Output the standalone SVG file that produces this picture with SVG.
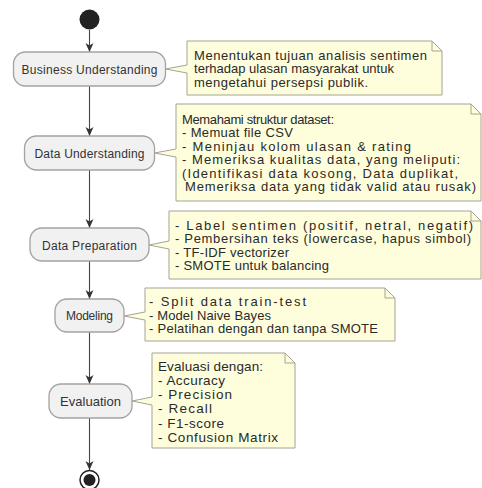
<svg xmlns="http://www.w3.org/2000/svg" width="482" height="488" viewBox="0 0 482 488">
<defs>
<style>
.act{fill:#f1f1f1;stroke:#a2a2a2;stroke-width:1.3}
.at{font-family:"Liberation Sans",Arial,sans-serif;font-size:12px;fill:#333;text-anchor:middle}
.note{fill:#fefedd;stroke:#a4a496;stroke-width:1}
.fold{fill:none;stroke:#a4a496;stroke-width:1}
.nt{font-family:"Liberation Sans",Arial,sans-serif;font-size:13px;fill:#2a2a2a}
.con{stroke:#444;stroke-width:1.1;fill:none}
</style>
<marker id="ah" markerWidth="10" markerHeight="10" refX="9" refY="4" orient="auto" markerUnits="userSpaceOnUse">
<path d="M0,0 L9,4 L0,8 L2.5,4 Z" fill="#333"/>
</marker>
</defs>
<rect width="482" height="488" fill="#fff"/>

<g id="connectors">
<line class="con" x1="89.5" y1="30" x2="89.5" y2="52" marker-end="url(#ah)"/>
<line class="con" x1="89.5" y1="86" x2="89.5" y2="136" marker-end="url(#ah)"/>
<line class="con" x1="89.5" y1="170" x2="89.5" y2="228" marker-end="url(#ah)"/>
<line class="con" x1="89.5" y1="261" x2="89.5" y2="299" marker-end="url(#ah)"/>
<line class="con" x1="89.5" y1="332" x2="89.5" y2="384" marker-end="url(#ah)"/>
<line class="con" x1="89.5" y1="418" x2="89.5" y2="470" marker-end="url(#ah)"/>
</g>

<g id="start">
<circle cx="89.5" cy="19.5" r="10" fill="#222"/>
</g>

<g id="business-understanding">
<rect class="act" x="13.5" y="52" width="152" height="34" rx="12"/>
<text class="at" x="89.5" y="73.5" textLength="136" lengthAdjust="spacing">Business Understanding</text>
</g>
<g id="note-business">
<path class="note" d="M187,41 L432,41 L442,51 L442,95 L187,95 L187,73 L165.5,69 L187,65 Z"/>
<path class="fold" d="M432,41 L432,51 L442,51"/>
<text class="nt" x="194" y="59.5" textLength="233" lengthAdjust="spacing">Menentukan tujuan analisis sentimen</text>
<text class="nt" x="194" y="73" textLength="200" lengthAdjust="spacing">terhadap ulasan masyarakat untuk</text>
<text class="nt" x="194" y="86.5" textLength="174" lengthAdjust="spacing">mengetahui persepsi publik.</text>
</g>

<g id="data-understanding">
<rect class="act" x="24.5" y="136" width="130" height="34" rx="12"/>
<text class="at" x="89.5" y="157.5" textLength="110" lengthAdjust="spacing">Data Understanding</text>
</g>
<g id="note-data-understanding">
<path class="note" d="M176,104 L471,104 L481,114 L481,201 L176,201 L176,157 L154.5,153 L176,149 Z"/>
<path class="fold" d="M471,104 L471,114 L481,114"/>
<text class="nt" x="182" y="123.5" textLength="152" lengthAdjust="spacing">Memahami struktur dataset:</text>
<text class="nt" x="182" y="137" textLength="111" lengthAdjust="spacing">- Memuat file CSV</text>
<text class="nt" x="182" y="150.5" textLength="229" lengthAdjust="spacing">- Meninjau kolom ulasan &amp; rating</text>
<text class="nt" x="182" y="164" textLength="278" lengthAdjust="spacing">- Memeriksa kualitas data, yang meliputi:</text>
<text class="nt" x="182" y="177.5" textLength="276" lengthAdjust="spacing">(Identifikasi data kosong, Data duplikat,</text>
<text class="nt" x="185" y="191" textLength="291" lengthAdjust="spacing">Memeriksa data yang tidak valid atau rusak)</text>
</g>

<g id="data-preparation">
<rect class="act" x="30" y="228" width="119" height="33" rx="12"/>
<text class="at" x="89.5" y="249.5" textLength="95" lengthAdjust="spacing">Data Preparation</text>
</g>
<g id="note-data-preparation">
<path class="note" d="M169,211 L471,211 L481,221 L481,279 L169,279 L169,249 L149,245 L169,241 Z"/>
<path class="fold" d="M471,211 L471,221 L481,221"/>
<text class="nt" x="175" y="229.5" textLength="298" lengthAdjust="spacing">- Label sentimen (positif, netral, negatif)</text>
<text class="nt" x="175" y="243" textLength="296" lengthAdjust="spacing">- Pembersihan teks (lowercase, hapus simbol)</text>
<text class="nt" x="175" y="256.5" textLength="114" lengthAdjust="spacing">- TF-IDF vectorizer</text>
<text class="nt" x="175" y="270" textLength="154" lengthAdjust="spacing">- SMOTE untuk balancing</text>
</g>

<g id="modeling">
<rect class="act" x="55" y="299" width="69" height="33" rx="12"/>
<text class="at" x="89.5" y="320" textLength="47" lengthAdjust="spacing">Modeling</text>
</g>
<g id="note-modeling">
<path class="note" d="M145,288 L385,288 L395,298 L395,341 L145,341 L145,320 L124,316 L145,312 Z"/>
<path class="fold" d="M385,288 L385,298 L395,298"/>
<text class="nt" x="149" y="306" textLength="157" lengthAdjust="spacing">- Split data train-test</text>
<text class="nt" x="149" y="319.5" textLength="122" lengthAdjust="spacing">- Model Naive Bayes</text>
<text class="nt" x="149" y="333" textLength="229" lengthAdjust="spacing">- Pelatihan dengan dan tanpa SMOTE</text>
</g>

<g id="evaluation">
<rect class="act" x="49" y="384" width="83" height="34" rx="12"/>
<text class="at" x="90.5" y="405.5" style="font-size:13px" textLength="61" lengthAdjust="spacing">Evaluation</text>
</g>
<g id="note-evaluation">
<path class="note" d="M152,353 L285,353 L295,363 L295,448 L152,448 L152,405 L132,401 L152,397 Z"/>
<path class="fold" d="M285,353 L285,363 L295,363"/>
<text class="nt" x="158" y="370.5" style="font-size:13.5px" textLength="105" lengthAdjust="spacing">Evaluasi dengan:</text>
<text class="nt" x="158" y="385" style="font-size:13.5px" textLength="67" lengthAdjust="spacing">- Accuracy</text>
<text class="nt" x="158" y="399" style="font-size:13.5px" textLength="74" lengthAdjust="spacing">- Precision</text>
<text class="nt" x="158" y="413" style="font-size:13.5px" textLength="54" lengthAdjust="spacing">- Recall</text>
<text class="nt" x="158" y="427.5" style="font-size:13.5px" textLength="66" lengthAdjust="spacing">- F1-score</text>
<text class="nt" x="158" y="441.5" style="font-size:13.5px" textLength="120" lengthAdjust="spacing">- Confusion Matrix</text>
</g>

<g id="end">
<circle cx="89.5" cy="480" r="9.5" fill="#fff" stroke="#222" stroke-width="1.5"/>
<circle cx="89.5" cy="480" r="6" fill="#222"/>
</g>
</svg>
